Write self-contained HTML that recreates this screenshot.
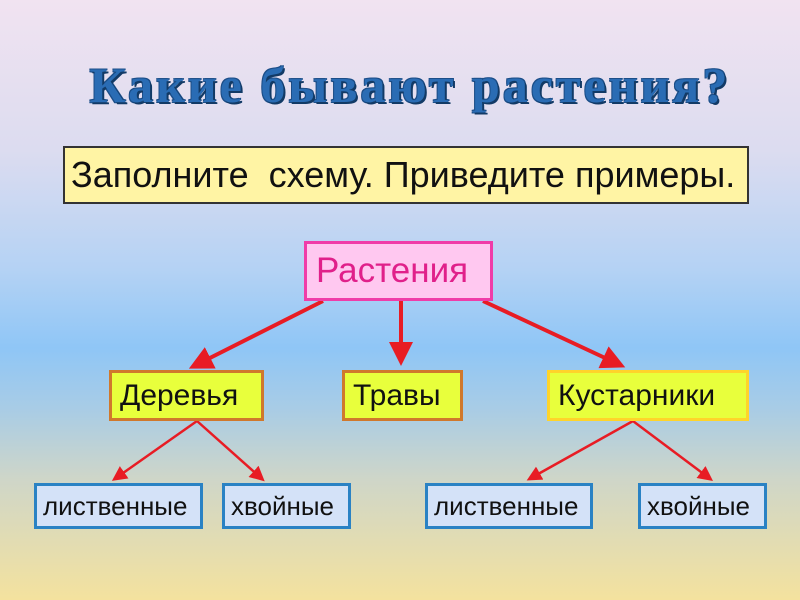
<!DOCTYPE html>
<html><head><meta charset="utf-8"><style>
body{margin:0;width:800px;height:600px;overflow:hidden;font-family:"Liberation Sans",sans-serif;
background:linear-gradient(180deg,#f1e3f1 0%,#dcdcf0 25%,#b4d2f4 45%,#8fc6f6 58%,#a8cce6 68%,#cfd6c8 80%,#f4e29e 100%);position:relative}
.b{position:absolute;box-sizing:border-box;display:flex;align-items:center;justify-content:flex-start;white-space:nowrap;padding-left:8px}
h1{position:absolute;left:0;width:820px;top:56px;margin:0;text-align:center;font-family:"Liberation Serif",serif;font-weight:bold;font-size:50px;color:#2a6cb4;letter-spacing:3px;
text-shadow:2px 2px 0 #123a66,-1px -1px 0 #1c4e88,1px -1px 0 #1c4e88,-1px 1px 0 #1c4e88}
.y{background:#e8ff3c;font-size:30px;color:#111;border:3px solid #d0782c}
.l{background:#d4e2f8;border:3px solid #2a82c4;font-size:26px;color:#111;padding-left:6px}
</style></head><body>
<h1>Какие бывают растения?</h1>
<div class="b" style="left:63px;top:146px;width:686px;height:58px;background:#fff4a4;border:2px solid #333;font-size:36px;color:#111;padding-left:6px">Заполните&nbsp; схему. Приведите примеры.</div>
<svg width="800" height="600" style="position:absolute;left:0;top:0">
<defs><marker id="a" markerWidth="6" markerHeight="6" refX="4" refY="3" orient="auto"><path d="M0,0 L6,3 L0,6z" fill="#e81c24"/></marker></defs>
<g stroke="#e81c24" stroke-width="4" marker-end="url(#a)">
<line x1="323" y1="301" x2="196" y2="365"/>
<line x1="401" y1="301" x2="401" y2="358"/>
<line x1="483" y1="301" x2="618" y2="364"/>
</g>
<g stroke="#e81c24" stroke-width="2.5" marker-end="url(#a)">
<line x1="197" y1="421" x2="116" y2="478"/>
<line x1="197" y1="421" x2="261" y2="478"/>
<line x1="633" y1="421" x2="531" y2="478"/>
<line x1="633" y1="421" x2="709" y2="478"/>
</g>
</svg>
<div class="b" style="left:304px;top:241px;width:189px;height:60px;background:#ffc8f0;border:3px solid #f03ca8;font-size:35px;color:#e0208a;padding-left:9px">Растения</div>
<div class="b y" style="left:109px;top:370px;width:155px;height:51px">Деревья</div>
<div class="b y" style="left:342px;top:370px;width:121px;height:51px">Травы</div>
<div class="b y" style="left:547px;top:370px;width:202px;height:51px;border-color:#ffd42a">Кустарники</div>
<div class="b l" style="left:34px;top:483px;width:169px;height:46px">лиственные</div>
<div class="b l" style="left:222px;top:483px;width:129px;height:46px">хвойные</div>
<div class="b l" style="left:425px;top:483px;width:168px;height:46px">лиственные</div>
<div class="b l" style="left:638px;top:483px;width:129px;height:46px">хвойные</div>
</body></html>
